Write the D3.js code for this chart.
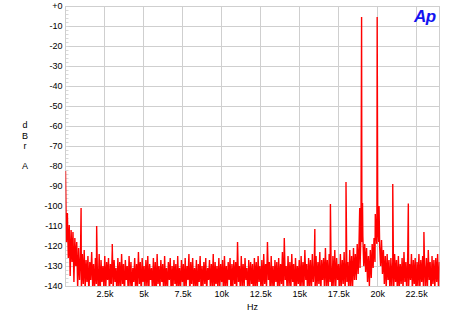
<!DOCTYPE html>
<html>
<head>
<meta charset="utf-8">
<script src="https://cdn.jsdelivr.net/npm/d3@7"></script>
<style>
html,body{margin:0;padding:0;background:#fff;}
svg{display:block;}
text{font-family:"Liberation Sans",Arial,sans-serif;}
</style>
</head>
<body>
<div id="chart"></div>
<script>
// ---- data ----
const binStepHz = 60;
const noiseDb = [
-82.5,-118,-103.5,-126,-109.5,-135,-112,-128,-113,-138,-116,-130,-118,-141,-121,-137,-125,-143,-124,-139,
-122,-142,-127,-138,-125,-145,-128,-137,-123,-140,-129,-144,-126,-139,-131,-142,-124,-146,-127,-138,
-130,-141,-125,-143,-128,-137,-126,-144,-129,-139,-122,-142,-127,-138,-131,-145,-126,-140,-128,-143,
-124,-139,-129,-146,-127,-137,-130,-142,-125,-140,-128,-144,-131,-138,-126,-143,-129,-141,-123,-139,
-128,-145,-126,-138,-130,-142,-127,-140,-125,-144,-129,-137,-131,-143,-126,-141,-128,-146,-124,-139,
-130,-142,-127,-138,-129,-145,-125,-140,-131,-143,-128,-137,-126,-144,-130,-141,-127,-139,-129,-146,
-125,-140,-131,-143,-127,-138,-129,-144,-126,-141,-130,-137,-124,-145,-128,-139,-126,-142,-131,-140,
-127,-146,-129,-138,-125,-143,-130,-141,-128,-139,-126,-144,-131,-137,-127,-142,-129,-140,-124,-145,
-128,-139,-130,-143,-126,-141,-129,-138,-127,-146,-125,-140,-130,-142,-128,-137,-126,-144,-129,-141,
-127,-139,-128,-145,-118,-138,-130,-143,-125,-140,-129,-142,-126,-137,-131,-144,-127,-141,-128,-139,
-129,-146,-126,-140,-128,-143,-125,-138,-130,-141,-127,-144,-124,-139,-129,-142,-118,-137,-128,-145,
-125,-140,-130,-143,-127,-138,-128,-144,-126,-141,-129,-139,-123,-146,-116,-137,-130,-142,-125,-140,
-128,-143,-124,-138,-129,-145,-126,-141,-130,-139,-127,-144,-125,-140,-128,-142,-122,-137,-129,-146,
-126,-140,-127,-143,-124,-138,-130,-144,-125,-141,-128,-139,-123,-145,-127,-137,-126,-142,-121,-140,
-127,-143,-124,-138,-128,-145,-125,-140,-122,-142,-126,-137,-129,-144,-124,-141,-127,-139,-123,-143,
-126,-138,-128,-145,-122,-140,-125,-142,-121,-137,-124,-137,-119,-134,-117,-131,-114,-118,-115,-130,
-119,-133,-121,-138,-125,-140,-122,-136,-119,-131,-116,-128,-113,-119,-112,-118,-120,-130,-117,-134,
-122,-139,-125,-142,-124,-137,-127,-144,-126,-140,-128,-143,-124,-138,-127,-145,-125,-141,-129,-139,
-126,-142,-123,-138,-128,-144,-125,-140,-129,-137,-124,-143,-127,-139,-126,-146,-128,-140,-124,-142,
-127,-138,-125,-144,-129,-140,-126,-143,-122,-137,-128,-145,-125,-139,-127,-142,-126,-138,-124,-144,
-128
];
const toneHz = [1000, 2000, 3000, 16000, 17000, 18000, 18880, 19000, 19060, 19880, 20000, 20120, 21000, 22000, 23000];
const toneDb = [-101, -110, -119, -111.5, -99, -88, -101, -5.5, -98.5, -104, -5.5, -100, -89, -98.7, -113];
const yTicks = [0, -10, -20, -30, -40, -50, -60, -70, -80, -90, -100, -110, -120, -130, -140];
const yTickLabels = ["+0", "-10", "-20", "-30", "-40", "-50", "-60", "-70", "-80", "-90", "-100", "-110", "-120", "-130", "-140"];
const xTicks = [2500, 5000, 7500, 10000, 12500, 15000, 17500, 20000, 22500];
const xTickLabels = ["2.5k", "5k", "7.5k", "10k", "12.5k", "15k", "17.5k", "20k", "22.5k"];

// ---- layout ----
const W = 450, H = 318;
const m = {left: 65.5, right: 10.5, top: 6, bottom: 32};
const iw = W - m.left - m.right, ih = H - m.top - m.bottom;

const svg = d3.select("#chart").append("svg").attr("width", W).attr("height", H);

const x = d3.scaleLinear().domain([0, 24000]).range([m.left, m.left + iw]);
const y = d3.scaleLinear().domain([-140, 0]).range([m.top + ih, m.top]);

const gridColor = "#cfcfcf";

// grid
svg.append("g").selectAll("line").data(yTicks).join("line")
  .attr("x1", m.left).attr("x2", m.left + iw)
  .attr("y1", d => Math.round(y(d)) + 0.5).attr("y2", d => Math.round(y(d)) + 0.5)
  .attr("stroke", gridColor).attr("stroke-width", 1);
svg.append("g").selectAll("line").data(xTicks).join("line")
  .attr("x1", d => Math.round(x(d)) + 0.5).attr("x2", d => Math.round(x(d)) + 0.5)
  .attr("y1", m.top).attr("y2", m.top + ih)
  .attr("stroke", gridColor).attr("stroke-width", 1);

// minor ticks on left axis
const minor = d3.range(0, -141, -2);
svg.append("g").selectAll("line").data(minor).join("line")
  .attr("x1", m.left).attr("x2", m.left + 3)
  .attr("y1", d => Math.round(y(d)) + 0.5).attr("y2", d => Math.round(y(d)) + 0.5)
  .attr("stroke", "#d8d8d8").attr("stroke-width", 1);

// frame
svg.append("rect")
  .attr("x", m.left).attr("y", m.top + 0.5).attr("width", iw).attr("height", ih)
  .attr("fill", "none").attr("stroke", gridColor).attr("stroke-width", 1);

// axes labels via d3 axes (no domain lines)
const yAxis = d3.axisLeft(y).tickValues(yTicks).tickSize(0).tickPadding(3)
  .tickFormat((d, i) => yTickLabels[i]);
const gy = svg.append("g").attr("transform", `translate(${m.left},0)`).call(yAxis);
gy.select(".domain").remove();
gy.selectAll("text").attr("font-size", 9).attr("fill", "#000")
  .attr("font-family", "'Liberation Sans',Arial,sans-serif");

const xAxis = d3.axisBottom(x).tickValues(xTicks).tickSize(0).tickPadding(5)
  .tickFormat((d, i) => xTickLabels[i]);
const gx = svg.append("g").attr("transform", `translate(0,${m.top + ih})`).call(xAxis);
gx.select(".domain").remove();
gx.selectAll("text").attr("font-size", 9).attr("fill", "#000")
  .attr("font-family", "'Liberation Sans',Arial,sans-serif");

// axis titles
svg.append("text").attr("x", x(12000)).attr("y", 309.5).attr("text-anchor", "middle")
  .attr("font-size", 9).text("Hz");
const yTitle = ["d", "B", "r", "", "A"];
const yTitleY = [128, 138.5, 149, 0, 169];
yTitle.forEach((t, i) => {
  if (t) svg.append("text").attr("x", 25).attr("y", yTitleY[i]).attr("text-anchor", "middle")
    .attr("font-size", 9).text(t);
});

// data line
const pts = noiseDb.map((v, i) => [i * binStepHz, v])
  .concat(toneHz.map((f, i) => [f, toneDb[i]]))
  .sort((a, b) => a[0] - b[0]);

svg.append("clipPath").attr("id", "clip").append("rect")
  .attr("x", m.left).attr("y", m.top).attr("width", iw).attr("height", ih);

const line = d3.line().x(d => x(d[0])).y(d => y(d[1]));
svg.append("path").datum(pts)
  .attr("clip-path", "url(#clip)")
  .attr("d", line)
  .attr("fill", "none").attr("stroke", "#ff0000").attr("stroke-width", 1.4)
  .attr("stroke-linejoin", "miter").attr("stroke-miterlimit", 2);

// Ap logo
svg.append("text").attr("x", 414).attr("y", 21.5)
  .attr("font-size", 17).attr("font-weight", "bold").attr("font-style", "italic")
  .attr("fill", "#1414f0").attr("letter-spacing", -0.5)
  .attr("font-family", "'Liberation Sans',Arial,sans-serif")
  .text("Ap");
</script>
</body>
</html>
